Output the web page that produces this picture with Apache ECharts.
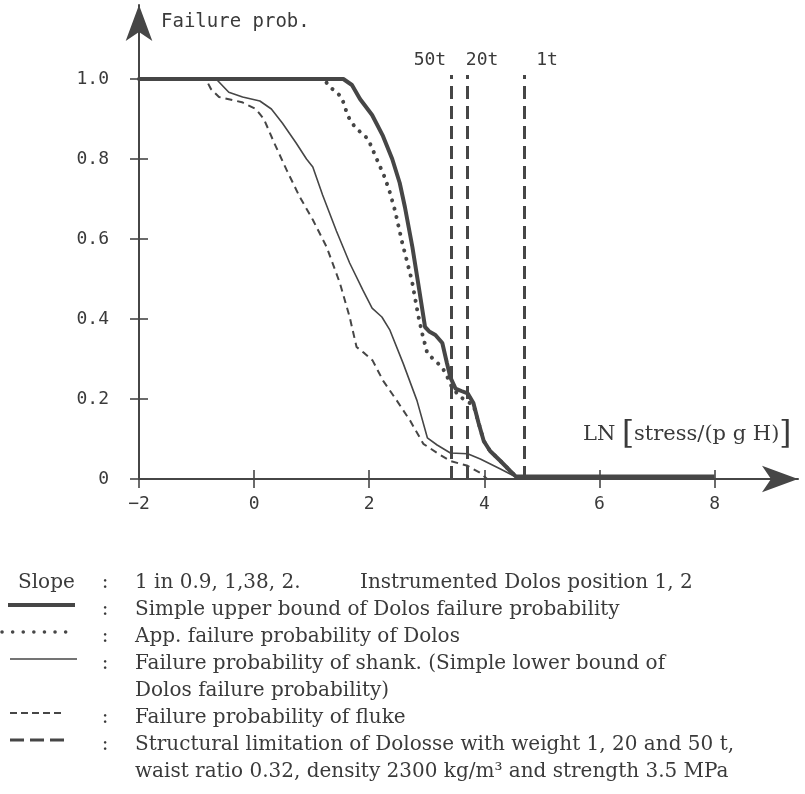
<!DOCTYPE html>
<html><head><meta charset="utf-8">
<script src="https://cdn.jsdelivr.net/npm/echarts@6/dist/echarts.min.js"></script>
<style>html,body{margin:0;padding:0;background:#fff}#c{width:805px;height:794px}</style>
</head><body><div id="c"></div>
<script>
// ---------- data ----------
const xTicks = [-2, 0, 2, 4, 6, 8];
const yTicks = [0, 0.2, 0.4, 0.6, 0.8, 1.0];

// Simple upper bound of Dolos failure probability (thick)
const upperBound = [[-2,1.0],[1.55,1.0],[1.7,0.985],[1.84,0.95],[2.05,0.91],[2.24,0.857],[2.4,0.80],[2.53,0.74],[2.62,0.68],[2.75,0.58],[2.85,0.49],[2.97,0.38],[3.05,0.368],[3.15,0.36],[3.27,0.34],[3.35,0.29],[3.41,0.254],[3.5,0.226],[3.6,0.22],[3.71,0.214],[3.81,0.19],[3.9,0.14],[3.99,0.095],[4.1,0.07],[4.28,0.045],[4.45,0.02],[4.55,0.006],[8,0.006]];
// App. failure probability of Dolos (dotted)
const appDolos = [[-2,1.0],[1.2,1.0],[1.36,0.975],[1.52,0.955],[1.63,0.907],[1.75,0.88],[1.98,0.85],[2.13,0.80],[2.27,0.754],[2.36,0.716],[2.45,0.67],[2.57,0.593],[2.74,0.497],[2.85,0.41],[2.92,0.364],[3.01,0.314],[3.15,0.295],[3.27,0.279],[3.36,0.254],[3.44,0.229],[3.55,0.21],[3.67,0.196],[3.81,0.185],[3.9,0.14],[3.99,0.095],[4.1,0.07],[4.28,0.045],[4.45,0.02],[4.55,0.006]];
// Failure probability of shank (thin solid)
const shank = [[-2,1.0],[-0.66,1.0],[-0.44,0.967],[-0.2,0.955],[0.1,0.945],[0.3,0.925],[0.49,0.89],[0.73,0.84],[0.91,0.80],[1.02,0.78],[1.19,0.71],[1.43,0.62],[1.66,0.54],[1.89,0.472],[2.05,0.427],[2.22,0.405],[2.36,0.372],[2.59,0.289],[2.83,0.196],[3.01,0.103],[3.18,0.085],[3.41,0.065],[3.71,0.063],[3.93,0.05],[4.28,0.025],[4.55,0.005]];
// Failure probability of fluke (thin dashed)
const fluke = [[-2,1.0],[-0.84,1.0],[-0.75,0.975],[-0.61,0.955],[-0.21,0.942],[0.03,0.925],[0.17,0.90],[0.35,0.84],[0.56,0.774],[0.79,0.706],[1.02,0.648],[1.26,0.58],[1.49,0.49],[1.66,0.405],[1.78,0.33],[1.92,0.314],[2.06,0.296],[2.24,0.246],[2.48,0.196],[2.71,0.146],[2.94,0.088],[3.18,0.065],[3.41,0.045],[3.71,0.033],[3.93,0.015],[4.05,0.0]];
// Structural limitation lines
const limitX = [3.42, 3.70, 4.69];
const limitNames = ['50t', '20t', '1t'];
const limitTop = 1.01;

// text
const yTitle = 'Failure prob.';
const legendLines = [
  ['Slope', '1 in 0.9, 1,38, 2.', 'Instrumented Dolos position 1, 2'],
  ['', 'Simple upper bound of Dolos failure probability'],
  ['', 'App. failure probability of Dolos'],
  ['', 'Failure probability of shank. (Simple lower bound of'],
  [null, 'Dolos failure probability)'],
  ['', 'Failure probability of fluke'],
  ['', 'Structural limitation of Dolosse with weight 1, 20 and 50 t,'],
  [null, 'waist ratio 0.32, density 2300 kg/m\u00b3 and strength 3.5 MPa']
];

// ---------- style ----------
const INK = '#464646';
const TXT = '#3a3a3a';
const MONO = '"DejaVu Sans Mono", monospace';
const SERIF = '"DejaVu Serif", serif';

const mctx = document.createElement('canvas').getContext('2d');
mctx.font = '20px "DejaVu Serif"';
const legFS = Math.round(20 * 485 / mctx.measureText(legendLines[1][1]).width * 10) / 10;

const xMin = -2, xMax = 9.45, yMin = 0, yMax = 1.185;

const chart = echarts.init(document.getElementById('c'), null, {renderer: 'canvas'});

function axisCommon(extra) {
  return Object.assign({type: 'value', splitLine: {show: false}}, extra);
}
const tickStyle = {color: INK, width: 1.6};

const legendBase = [590, 617, 644, 671, 698, 725, 752, 779];
const graphics = [];
graphics.push({type: 'text', x: 161, y: 22, style: {text: yTitle, font: '19px ' + MONO, fill: TXT, verticalAlign: 'middle'}});
graphics.push({type: 'text', x: 583, y: 435, style: {
  text: '{n|LN }{b|[}{n|stress/(p g H)}{b|]}',
  verticalAlign: 'middle',
  rich: {n: {fontFamily: SERIF, fontSize: 21, fill: TXT, color: TXT}, b: {fontFamily: SERIF, fontSize: 31, fill: TXT, color: TXT}}
}});
legendLines.forEach((row, i) => {
  const yb = legendBase[i];
  const yt = yb - 7;
  if (row[0] === 'Slope') graphics.push({type: 'text', x: 18, y: yt, style: {text: 'Slope', font: legFS + 'px ' + SERIF, fill: TXT, verticalAlign: 'middle'}});
  if (row[0] !== null) graphics.push({type: 'text', x: 105, y: yt, style: {text: ':', font: legFS + 'px ' + SERIF, fill: TXT, align: 'center', verticalAlign: 'middle'}});
  graphics.push({type: 'text', x: 135, y: yt, style: {text: row[1], font: legFS + 'px ' + SERIF, fill: TXT, verticalAlign: 'middle'}});
  if (row[2]) graphics.push({type: 'text', x: 360, y: yt, style: {text: row[2], font: legFS + 'px ' + SERIF, fill: TXT, verticalAlign: 'middle'}});
});
const sy = i => legendBase[i] - 12;
graphics.push({type: 'line', shape: {x1: 8, y1: sy(1), x2: 75, y2: sy(1)}, style: {stroke: INK, lineWidth: 4}});
graphics.push({type: 'line', shape: {x1: 2, y1: sy(2), x2: 75, y2: sy(2)}, style: {stroke: INK, lineWidth: 3.5, lineDash: [0.1, 10.5], lineCap: 'round'}});
graphics.push({type: 'line', shape: {x1: 10, y1: sy(3), x2: 77, y2: sy(3)}, style: {stroke: INK, lineWidth: 1.6}});
graphics.push({type: 'line', shape: {x1: 10, y1: sy(5), x2: 64, y2: sy(5)}, style: {stroke: INK, lineWidth: 2, lineDash: [7, 4]}});
graphics.push({type: 'line', shape: {x1: 10, y1: sy(6), x2: 64, y2: sy(6)}, style: {stroke: INK, lineWidth: 3, lineDash: [14, 6]}});

const labelOffsets = [-21, 15, 23];

const option = {
  animation: false,
  backgroundColor: '#ffffff',
  grid: {left: 139, top: 5, width: 659, height: 474, containLabel: false},
  xAxis: [
    axisCommon({min: xMin, max: xMax, position: 'bottom',
      axisLine: {show: true, onZero: false, symbol: ['none', 'arrow'], symbolSize: [20, 36], lineStyle: {color: INK, width: 2}},
      axisTick: {show: true, length: 9, customValues: xTicks, lineStyle: tickStyle},
      axisLabel: {show: true, customValues: xTicks, margin: 16, fontFamily: MONO, fontSize: 18, color: TXT,
        formatter: v => v < 0 ? '\u2212' + Math.abs(v) : String(v)}}),
    axisCommon({min: xMin, max: xMax, position: 'bottom',
      axisLine: {show: false, onZero: false}, axisLabel: {show: false},
      axisTick: {show: true, inside: true, length: 9, customValues: xTicks, lineStyle: tickStyle}})
  ],
  yAxis: [
    axisCommon({min: yMin, max: yMax, position: 'left',
      axisLine: {show: true, onZero: false, symbol: ['none', 'arrow'], symbolSize: [20, 36], lineStyle: {color: INK, width: 2}},
      axisTick: {show: true, length: 9, customValues: yTicks, lineStyle: tickStyle},
      axisLabel: {show: true, customValues: yTicks, margin: 30, fontFamily: MONO, fontSize: 18, color: TXT,
        formatter: v => v === 0 ? '0' : v.toFixed(1)}}),
    axisCommon({min: yMin, max: yMax, position: 'left',
      axisLine: {show: false, onZero: false}, axisLabel: {show: false},
      axisTick: {show: true, inside: true, length: 9, customValues: yTicks, lineStyle: tickStyle}})
  ],
  series: [
    {type: 'line', name: 'fluke', data: fluke, symbol: 'none', z: 3,
      lineStyle: {color: INK, width: 2, type: [7, 5]}},
    {type: 'line', name: 'shank', data: shank, symbol: 'none', z: 3,
      lineStyle: {color: INK, width: 1.6}},
    {type: 'line', name: 'app', data: appDolos, symbol: 'none', z: 4,
      lineStyle: {color: INK, width: 4, type: [0.1, 8.5], cap: 'round'}},
    {type: 'line', name: 'upper', data: upperBound, symbol: 'none', z: 5,
      lineStyle: {color: INK, width: 4}},
    {type: 'line', name: 'limits', data: [], symbol: 'none', z: 2,
      markLine: {
        silent: true, symbol: ['none', 'none'], animation: false,
        lineStyle: {color: INK, width: 3, type: [13, 7]},
        data: limitX.map((x, i) => [
          {coord: [x, 0], name: limitNames[i], label: {offset: [labelOffsets[i], 0]}},
          {coord: [x, limitTop]}
        ]),
        label: {show: true, position: 'end', distance: 6, formatter: p => p.name,
          fontFamily: MONO, fontSize: 18, color: TXT}
      }}
  ],
  graphic: {elements: graphics}
};
chart.setOption(option);
</script>
</body></html>
